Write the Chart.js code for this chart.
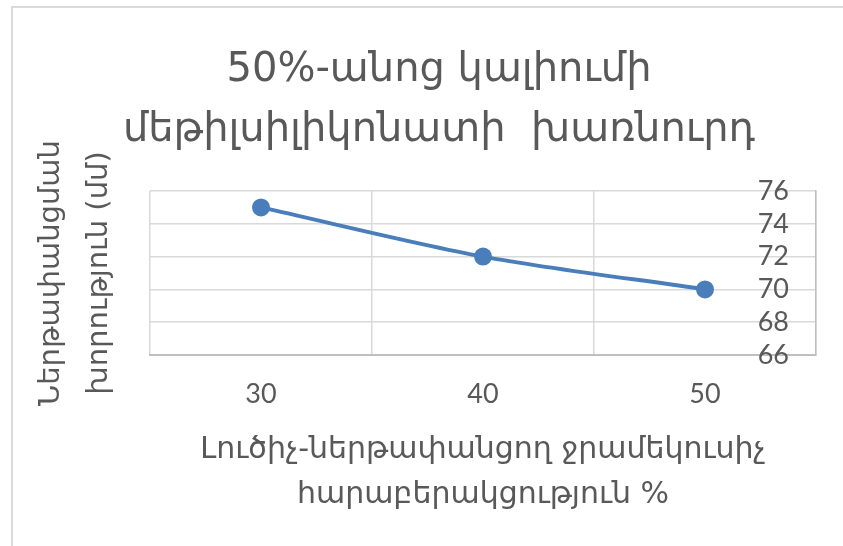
<!DOCTYPE html>
<html>
<head>
<meta charset="utf-8">
<script src="https://cdn.jsdelivr.net/npm/chart.js@4/dist/chart.umd.min.js"></script>
<style>
  html, body { margin: 0; padding: 0; background: #ffffff; overflow: hidden; }
  #wrap { position: relative; width: 843px; height: 546px; }
  #frame { position: absolute; left: 11px; top: 6px; right: -10px; bottom: -10px; border: 2px solid #d9d9d9; box-sizing: border-box; }
  canvas { position: absolute; left: 0; top: 0; }
</style>
</head>
<body>
<div id="wrap">
  <div id="frame"></div>
  <canvas id="c" width="843" height="546"></canvas>
</div>
<script>
// ---- data ----
const categories = ['30', '40', '50'];
const depthValues = [75, 72, 70];
const yMin = 66;
const yMax = 76;
const yStep = 2;
const chartTitle = ['50%-անոց կալիումի', 'մեթիլսիլիկոնատի  խառնուրդ'];
const xTitle = ['Լուծիչ-ներթափանցող ջրամեկուսիչ', 'հարաբերակցություն %'];
const yTitle = ['Ներթափանցման', 'խորություն (մմ)'];

const textColor = '#595959';
const gridColor = '#d9d9d9';
const seriesColor = '#4a7ebb';
const armFont = "'DejaVu Sans', 'Noto Sans', sans-serif";
const numFont = "Lato, 'Noto Sans', sans-serif";

new Chart(document.getElementById('c'), {
  type: 'line',
  data: {
    labels: categories,
    datasets: [{
      data: depthValues,
      borderColor: seriesColor,
      backgroundColor: seriesColor,
      borderWidth: 4,
      pointRadius: 9,
      pointHoverRadius: 9,
      pointBorderWidth: 0,
      pointBackgroundColor: seriesColor,
      tension: 0.3,
      fill: false,
      yAxisID: 'y'
    }]
  },
  options: {
    responsive: false,
    animation: false,
    devicePixelRatio: 1,
    layout: { padding: { left: 62, right: 27, top: 0, bottom: 0 } },
    plugins: {
      legend: { display: false },
      tooltip: { enabled: false },
      title: {
        display: true,
        text: chartTitle,
        color: textColor,
        font: { family: armFont, size: 40, weight: 'normal', lineHeight: 1.5 },
        padding: { top: 41, bottom: 30 }
      }
    },
    scales: {
      x: {
        type: 'category',
        position: 'bottom',
        offset: true,
        grid: { offset: true, color: gridColor, lineWidth: 1.5, drawTicks: false },
        border: { color: '#bfbfbf', width: 2 },
        ticks: { color: textColor, font: { family: numFont, size: 27 }, padding: 23 },
        title: {
          display: true,
          text: xTitle,
          color: textColor,
          font: { family: armFont, size: 30, weight: 'normal', lineHeight: 1.5 },
          padding: { top: 0, bottom: 28 }
        },
        afterFit: (s) => { s.height = 546 - 355; }
      },
      y: {
        type: 'linear',
        position: 'right',
        min: yMin,
        max: yMax,
        grid: { color: gridColor, lineWidth: 1.5, drawTicks: false },
        border: { display: true, color: '#bfbfbf', width: 1.5 },
        ticks: {
          stepSize: yStep,
          autoSkip: false,
          mirror: true,
          color: textColor,
          font: { family: numFont, size: 27 },
          padding: -27,
          crossAlign: 'near'
        },
        afterFit: (s) => { s.width = 0; }
      },
      yTitleAxis: {
        type: 'linear',
        position: 'left',
        display: true,
        grid: { display: false, drawTicks: false },
        border: { display: false },
        ticks: { display: false },
        title: {
          display: true,
          text: yTitle,
          color: textColor,
          font: { family: armFont, size: 29, weight: 'normal', lineHeight: 1.65 },
          padding: { top: -34, bottom: 0 }
        },
        afterFit: (s) => { s.width = 150 - 62; }
      }
    }
  }
});
</script>
</body>
</html>
